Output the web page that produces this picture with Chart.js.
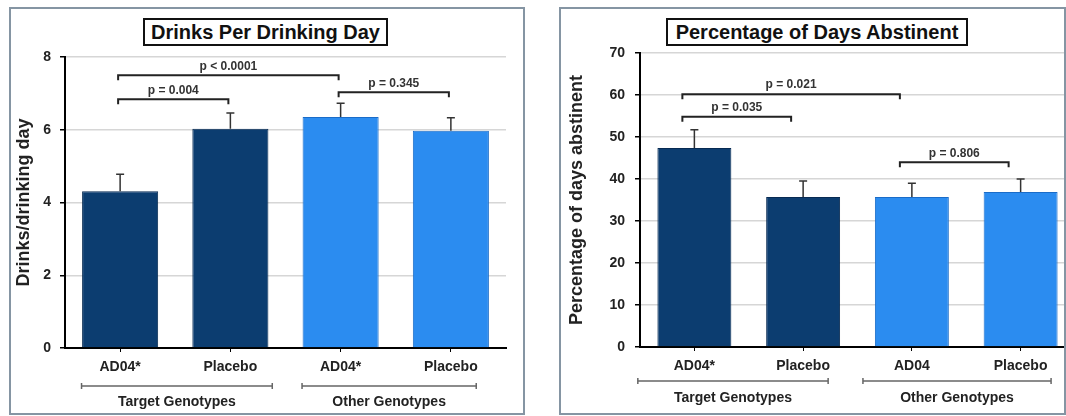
<!DOCTYPE html>
<html>
<head>
<meta charset="utf-8">
<script src="https://cdn.jsdelivr.net/npm/chart.js@4.4.1/dist/chart.umd.min.js"></script>
<style>
  html, body { margin:0; padding:0; background:#fff; overflow:hidden; width:1066px; height:416px; }
  body { position:relative; font-family:'Liberation Sans', Arial, sans-serif; }
  canvas { position:absolute; top:0; }
  .panel { position:absolute; top:7px; height:408px; box-sizing:border-box; border:2px solid #8595a3; pointer-events:none; z-index:2; }
  .ttl { position:absolute; top:18px; height:28px; box-sizing:border-box; border:2px solid #111; background:#fff;
         font-weight:bold; font-size:20px; line-height:24px; text-align:center; color:#111; z-index:3; white-space:nowrap; }
</style>
</head>
<body>
<canvas id="drinksChart" width="533" height="416" style="left:0;width:533px;height:416px"></canvas>
<canvas id="abstChart" width="560" height="416" style="left:533px;width:560px;height:416px"></canvas>
<div class="panel" style="left:9px;width:516px"></div>
<div class="panel" style="left:559px;width:507px"></div>
<div class="ttl" style="left:143px;width:245px">Drinks Per Drinking Day</div>
<div class="ttl" style="left:666px;width:302px">Percentage of Days Abstinent</div>
<script>
const drinksLabels = ['AD04*', 'Placebo', 'AD04*', 'Placebo'];
const drinksMeans = [4.31, 6.03, 6.35, 5.97];
const drinksErrors = [0.47, 0.43, 0.38, 0.36];
const drinksTicks = [0, 2, 4, 6, 8];
const drinksBrackets = [
    { from: 0, to: 2, y: 7.5, label: 'p < 0.0001' },
    { from: 0, to: 1, y: 6.84, label: 'p = 0.004' },
    { from: 2, to: 3, y: 7.03, label: 'p = 0.345' }
];

const abstLabels = ['AD04*', 'Placebo', 'AD04', 'Placebo'];
const abstMeans = [47.4, 35.7, 35.7, 36.9];
const abstErrors = [4.3, 3.8, 3.3, 3.1];
const abstTicks = [0, 10, 20, 30, 40, 50, 60, 70];
const abstBrackets = [
    { from: 0, to: 2, y: 60.2, label: 'p = 0.021' },
    { from: 0, to: 1, y: 54.8, label: 'p = 0.035' },
    { from: 2, to: 3, y: 44.0, label: 'p = 0.806' }
];

const groupLabels = ['Target Genotypes', 'Other Genotypes'];

const barColors = ['#0c3d70', '#0c3d70', '#2b8cf0', '#2b8cf0'];
const barEdges = ['#072a52', '#072a52', '#1a6cc8', '#1a6cc8'];
const FONT = "'Liberation Sans', Arial, sans-serif";

// error bars, p-value brackets and genotype group rulers
const annotate = {
    id: 'annotate',
    afterDatasetsDraw(chart, args, o) {
        const { ctx, scales: { x, y }, chartArea } = chart;
        const means = chart.data.datasets[0].data;
        ctx.save();

        ctx.strokeStyle = '#333';
        ctx.lineWidth = 1.5;
        o.errors.forEach((e, i) => {
            const cx = x.getPixelForValue(i);
            const top = y.getPixelForValue(means[i] + e);
            const base = y.getPixelForValue(means[i]);
            ctx.beginPath();
            ctx.moveTo(cx, base); ctx.lineTo(cx, top);
            ctx.moveTo(cx - 4, top); ctx.lineTo(cx + 4, top);
            ctx.stroke();
        });

        ctx.strokeStyle = '#222';
        ctx.fillStyle = '#333';
        ctx.lineWidth = 2;
        ctx.font = 'bold 12px ' + FONT;
        ctx.textAlign = 'center';
        ctx.textBaseline = 'bottom';
        o.brackets.forEach(b => {
            const x1 = x.getPixelForValue(b.from) + o.shift;
            const x2 = x.getPixelForValue(b.to) + o.shift;
            const py = y.getPixelForValue(b.y);
            ctx.beginPath();
            ctx.moveTo(x1, py + 5); ctx.lineTo(x1, py); ctx.lineTo(x2, py); ctx.lineTo(x2, py + 5);
            ctx.stroke();
            ctx.fillText(b.label, (x1 + x2) / 2, py - 3);
        });

        const gy = chartArea.bottom + o.groupGap;
        ctx.strokeStyle = '#666';
        ctx.lineWidth = 1.5;
        ctx.fillStyle = '#222';
        ctx.font = 'bold 14px ' + FONT;
        ctx.textBaseline = 'middle';
        o.groups.forEach((g, i) => {
            const x1 = x.getPixelForValue(g[0]);
            const x2 = x.getPixelForValue(g[1]);
            ctx.beginPath();
            ctx.moveTo(x1, gy); ctx.lineTo(x2, gy);
            ctx.moveTo(x1, gy - 3); ctx.lineTo(x1, gy + 3);
            ctx.moveTo(x2, gy - 3); ctx.lineTo(x2, gy + 3);
            ctx.stroke();
            ctx.fillText(groupLabels[i], (x1 + x2) / 2, gy + o.labelGap);
        });
        ctx.restore();
    }
};

function makeChart(id, labels, means, errors, ticks, brackets, yTitle, lay) {
    return new Chart(document.getElementById(id), {
        type: 'bar',
        data: {
            labels: labels,
            datasets: [{
                data: means,
                backgroundColor: barColors,
                borderColor: barEdges,
                borderWidth: 1,
                barPercentage: lay.barPct,
                categoryPercentage: 1
            }]
        },
        options: {
            responsive: false,
            animation: false,
            layout: { padding: { top: lay.top, right: lay.right, left: 0, bottom: 0 } },
            plugins: {
                legend: { display: false },
                tooltip: { enabled: false },
                annotate: { errors: errors, brackets: brackets, shift: lay.shift, groups: lay.groups, groupGap: lay.groupGap, labelGap: lay.labelGap }
            },
            scales: {
                x: {
                    afterFit: s => { s.height = lay.xHeight; },
                    border: { display: true, color: '#000', width: 2 },
                    grid: { display: true, drawOnChartArea: false, drawTicks: true, tickLength: 4, tickColor: '#000', offset: false },
                    ticks: { color: '#222', font: { family: FONT, size: 14, weight: 'bold' }, padding: 7, maxRotation: 0 }
                },
                y: {
                    min: ticks[0],
                    max: ticks[ticks.length - 1],
                    afterFit: s => { s.width = lay.yWidth; },
                    afterBuildTicks: s => { s.ticks = ticks.map(v => ({ value: v })); },
                    border: { display: true, color: '#000', width: 2 },
                    grid: { color: '#d6d6d6', lineWidth: 1.5, tickColor: '#000', tickLength: 5 },
                    ticks: { color: '#222', font: { family: FONT, size: 14, weight: 'bold' }, padding: lay.tickPad },
                    title: { display: true, text: yTitle, color: '#222', font: { family: FONT, size: 18, weight: 'bold' }, padding: { top: lay.titlePad, bottom: 0 } }
                }
            }
        },
        plugins: [annotate]
    });
}

makeChart('drinksChart', drinksLabels, drinksMeans, drinksErrors, drinksTicks, drinksBrackets, 'Drinks/drinking day', {
    top: 57, right: 27, xHeight: 68, yWidth: 65, tickPad: 9, titlePad: 13, barPct: 0.69, shift: -2,
    groups: [[-0.35, 1.38], [1.65, 3.23]], groupGap: 38, labelGap: 16
});

makeChart('abstChart', abstLabels, abstMeans, abstErrors, abstTicks, abstBrackets, 'Percentage of days abstinent', {
    top: 53, right: 18, xHeight: 69, yWidth: 107, tickPad: 10, titlePad: 33, barPct: 0.68, shift: -12,
    groups: [[-0.52, 1.23], [1.55, 3.28]], groupGap: 34, labelGap: 17
});
</script>
</body>
</html>
